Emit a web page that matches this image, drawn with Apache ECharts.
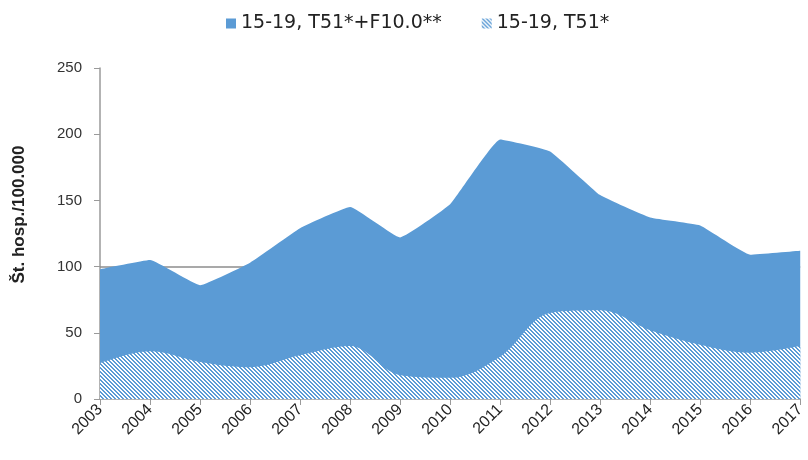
<!DOCTYPE html>
<html>
<head>
<meta charset="utf-8">
<script src="https://cdn.jsdelivr.net/npm/echarts@6/dist/echarts.min.js"></script>
<style>html,body{margin:0;padding:0;background:#fff}#c{width:808px;height:460px}</style>
</head>
<body>
<div id="c"></div>
<script>
var years = ['2003','2004','2005','2006','2007','2008','2009','2010','2011','2012','2013','2014','2015','2016','2017'];
var totalName = '15-19, T51*+F10.0**';
var t51Name = '15-19, T51*';
var totalValues = [98, 105, 86, 103, 129, 145, 122, 147, 196, 187, 154, 137, 131, 109, 112];
var t51Values = [27, 36, 28, 24, 33, 40, 18, 16, 32, 65, 67, 52, 41, 35, 40];
var yTicks = [0, 50, 100, 150, 200, 250];
var refLine = 100;

var BLUE = '#5b9bd5';
function hatch() {
  var s = 4;
  var cv = document.createElement('canvas');
  cv.width = s; cv.height = s;
  var ctx = cv.getContext('2d');
  ctx.fillStyle = '#ffffff';
  ctx.fillRect(0, 0, s, s);
  ctx.fillStyle = BLUE;
  for (var i = 0; i < s; i++) {
    ctx.fillRect(i, i, 1, 1);
    ctx.fillRect((i + 1) % s, i, 1, 1);
  }
  return {image: cv, repeat: 'repeat'};
}
var pat = hatch();

var chart = echarts.init(document.getElementById('c'), null, {renderer: 'canvas'});
chart.setOption({
  animation: false,
  textStyle: {fontFamily: 'DejaVu Sans'},
  legend: {
    top: 9,
    left: 221,
    itemWidth: 10,
    itemHeight: 10,
    itemGap: 40,
    icon: 'rect',
    textStyle: {fontSize: 19, color: '#222', fontFamily: 'DejaVu Sans'},
    data: [totalName, t51Name]
  },
  grid: {left: 100, right: 1, top: 68, bottom: 61, containLabel: false},
  xAxis: {
    type: 'category',
    boundaryGap: false,
    data: years,
    axisLine: {lineStyle: {color: '#9a9a9a', width: 1.5}},
    axisTick: {show: true, length: 6, lineStyle: {color: '#9a9a9a'}},
    axisLabel: {rotate: 45, fontSize: 16, color: '#222', margin: 8, fontFamily: 'Liberation Sans'},
    splitLine: {show: false}
  },
  yAxis: {
    type: 'value',
    min: yTicks[0],
    max: yTicks[yTicks.length - 1],
    interval: yTicks[1] - yTicks[0],
    name: 'Št. hosp./100.000',
    nameLocation: 'middle',
    nameGap: 72,
    nameTextStyle: {fontSize: 17, fontWeight: 'bold', color: '#222', fontFamily: 'Liberation Sans', padding: [0, 0, 0, 38]},
    axisLine: {show: true, lineStyle: {color: '#9a9a9a', width: 1.5}},
    axisTick: {show: true, length: 6, lineStyle: {color: '#9a9a9a'}},
    axisLabel: {fontSize: 15, color: '#333', margin: 18, fontFamily: 'Liberation Sans'},
    splitLine: {show: false}
  },
  series: [
    {
      name: 'ref',
      type: 'line',
      data: [],
      z: 0,
      silent: true,
      markLine: {
        silent: true,
        z: 1,
        symbol: 'none',
        label: {show: false},
        lineStyle: {color: '#8c8c8c', width: 1.5, type: 'solid'},
        data: [{yAxis: refLine}]
      }
    },
    {
      name: totalName,
      type: 'line',
      z: 2,
      data: totalValues,
      symbol: 'none',
      smooth: 0.1,
      lineStyle: {width: 0},
      itemStyle: {color: BLUE},
      areaStyle: {color: BLUE, opacity: 1}
    },
    {
      name: t51Name,
      type: 'line',
      z: 3,
      data: t51Values,
      symbol: 'none',
      smooth: 0.35,
      lineStyle: {width: 0},
      itemStyle: {color: pat},
      areaStyle: {color: pat, opacity: 1}
    }
  ]
});
</script>
</body>
</html>
